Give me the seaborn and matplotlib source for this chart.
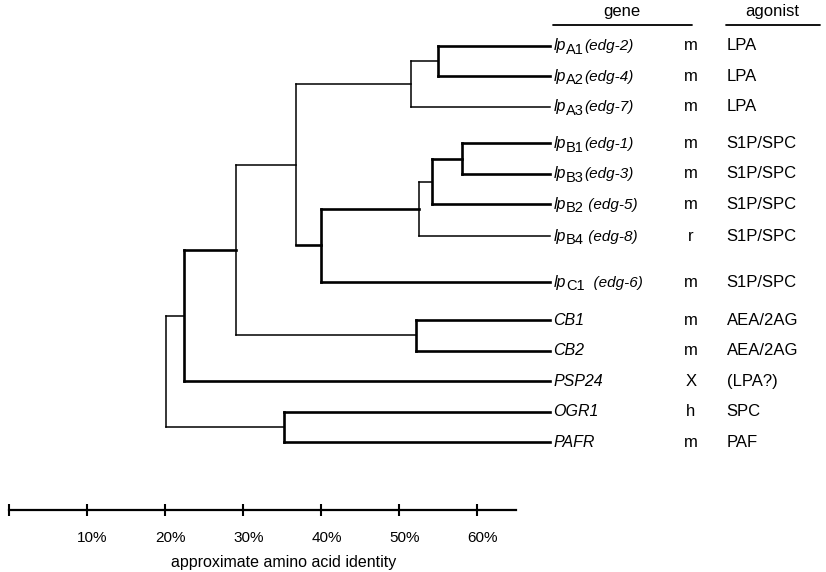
import matplotlib
matplotlib.use("Agg")
import matplotlib.pyplot as plt
import matplotlib.transforms as mtransforms
import pandas as pd
import seaborn as sns

# leaves, top to bottom
leaf_ids = ["lpA1", "lpA2", "lpA3", "lpB1", "lpB3", "lpB2", "lpB4",
            "lpC1", "CB1", "CB2", "PSP24", "OGR1", "PAFR"]
leaf_rows = [0, 1, 2, 3.2, 4.2, 5.2, 6.25, 7.75, 9, 10, 11, 12, 13]
# gene label: italic name, upright subscript, italic rest
gene_main = ["lp", "lp", "lp", "lp", "lp", "lp", "lp", "lp",
             "CB1", "CB2", "PSP24", "OGR1", "PAFR"]
gene_sub = ["A1", "A2", "A3", "B1", "B3", "B2", "B4", "C1",
            "", "", "", "", ""]
gene_rest = ["(edg-2)", "(edg-4)", "(edg-7)", "(edg-1)", "(edg-3)",
             " (edg-5)", " (edg-8)", "  (edg-6)", "", "", "", "", ""]
species = ["m", "m", "m", "m", "m", "m", "r", "m", "m", "m", "X", "h", "m"]
agonists = ["LPA", "LPA", "LPA", "S1P/SPC", "S1P/SPC", "S1P/SPC", "S1P/SPC",
            "S1P/SPC", "AEA/2AG", "AEA/2AG", "(LPA?)", "SPC", "PAF"]
leaf_identity = 69.4

# internal nodes (bottom-up), % identity at the joint
node_names = ["A12", "A", "B13", "B132", "B", "BC", "ABC", "CB", "LPCB",
              "ING", "OP", "root"]
node_identity = [55.0, 51.5, 58.1, 54.2, 52.6, 40.0, 36.8, 52.2, 29.1,
                 22.4, 35.3, 20.1]
node_children = [("lpA1", "lpA2"), ("A12", "lpA3"), ("lpB1", "lpB3"),
                 ("B13", "lpB2"), ("B132", "lpB4"), ("B", "lpC1"),
                 ("A", "BC"), ("CB1", "CB2"), ("ABC", "CB"),
                 ("LPCB", "PSP24"), ("OGR1", "PAFR"), ("ING", "OP")]

xticks = [0, 10, 20, 30, 40, 50, 60]
xticklabels = ["", "10%", "20%", "30%", "40%", "50%", "60%"]

thick_nodes = {"A12", "B13", "B132", "BC", "CB", "ING", "OP"}
thick_edges = {("ABC", "BC")}

xpos = {k: leaf_identity for k in leaf_ids}
ypos = dict(zip(leaf_ids, leaf_rows))
rows = []
seg = 0
for name, ident, (a, b) in zip(node_names, node_identity, node_children):
    xpos[name] = ident
    ypos[name] = (ypos[a] + ypos[b]) / 2
    w = "thick" if name in thick_nodes else "thin"
    rows += [(seg, ident, ypos[a], w), (seg, ident, ypos[b], w)]
    seg += 1
    for c in (a, b):
        wc = "thick" if (name, c) in thick_edges else w
        rows += [(seg, ident, ypos[c], wc), (seg, xpos[c], ypos[c], wc)]
        seg += 1
segs = pd.DataFrame(rows, columns=["seg", "x", "y", "w"])

sns.set_theme(style="white")
plt.rcParams["font.family"] = ["Liberation Sans", "DejaVu Sans"]
plt.rcParams["text.color"] = "black"

fig = plt.figure(figsize=(8.26, 5.72), dpi=100)
ax = fig.add_axes([9 / 826, 62 / 572, 507 / 826, 490 / 572])
sns.lineplot(data=segs, x="x", y="y", units="seg", estimator=None, sort=False,
             size="w", sizes={"thin": 1.1, "thick": 1.9}, color="black",
             legend=False, ax=ax, solid_capstyle="projecting")
for ln in ax.lines:
    ln.set_clip_on(False)

ax.set_xlim(0, 65)
ax.set_ylim(15.23, -0.85)
sns.despine(ax=ax, left=True)
ax.spines["bottom"].set_linewidth(1.6)
ax.spines["bottom"].set_color("black")
ax.set_yticks([])
ax.set_ylabel("")
ax.set_xticks(xticks)
ax.set_xticklabels(xticklabels)
ax.tick_params(axis="x", direction="inout", length=8, width=1.5,
               colors="black", labelsize=11, pad=11, bottom=True)
shift = mtransforms.ScaledTranslation(0.055, 0, fig.dpi_scale_trans)
for lab in ax.get_xticklabels():
    lab.set_transform(lab.get_transform() + shift)
ax.set_xlabel("approximate amino acid identity", fontsize=11.5, color="black")
ax.xaxis.set_label_coords(0.542, -0.092)

fs = 12
for y, gm, gs, gr, s, ag in zip(leaf_rows, gene_main, gene_sub, gene_rest,
                                 species, agonists):
    t = ax.text(69.8, y, gm, fontsize=11.5, style="italic", va="center",
                ha="left", clip_on=False)
    if gs:
        t2 = ax.annotate(gs, xy=(1, 0), xycoords=t, xytext=(0.3, -2.6),
                         textcoords="offset points", fontsize=10.5,
                         va="bottom", ha="left")
        ax.annotate(gr, xy=(1, 0), xycoords=t2, xytext=(0, 2.6),
                    textcoords="offset points", fontsize=11, style="italic",
                    va="bottom", ha="left")
    ax.text(87.4, y, s, fontsize=fs, va="center", ha="center", clip_on=False)
    ax.text(92.0, y, ag, fontsize=fs, va="center", ha="left", clip_on=False)

ax.text(78.6, -1.12, "gene", fontsize=fs, ha="center", va="center",
        clip_on=False)
ax.text(97.9, -1.12, "agonist", fontsize=fs, ha="center", va="center",
        clip_on=False)
ax.plot([69.7, 87.6], [-0.69, -0.69], color="black", lw=1.3, clip_on=False)
ax.plot([91.9, 104.0], [-0.69, -0.69], color="black", lw=1.3, clip_on=False)

fig.savefig("out.png", dpi=100)
